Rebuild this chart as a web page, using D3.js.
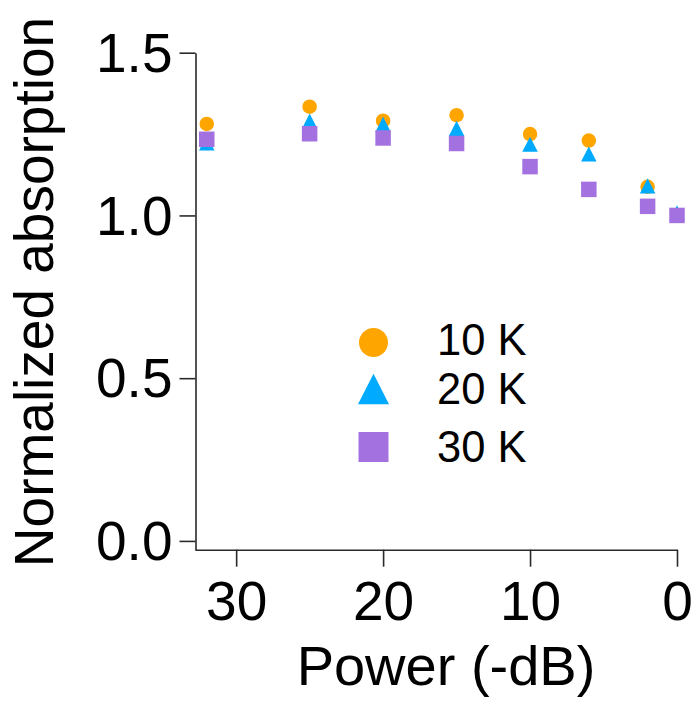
<!DOCTYPE html>
<html>
<head>
<meta charset="utf-8">
<script src="https://cdn.jsdelivr.net/npm/d3@7"></script>
<style>
  html, body { margin: 0; padding: 0; background: #fff; }
  svg { display: block; font-family: "Liberation Sans", Arial, sans-serif; }
</style>
</head>
<body>
<svg id="chart" width="696" height="706"></svg>
<script>
// ---- data ----
const power = [32, 25, 20, 15, 10, 6, 2, 0];
const seriesNames = ["10 K", "20 K", "30 K"];
const values10K = [1.281, 1.334, 1.291, 1.308, 1.250, 1.230, 1.088, 1.000];
const values20K = [1.215, 1.282, 1.272, 1.260, 1.211, 1.181, 1.083, 1.000];
const values30K = [1.234, 1.251, 1.238, 1.221, 1.150, 1.080, 1.028, 1.000];
const xTicks = [30, 20, 10, 0];
const yTicks = [0.0, 0.5, 1.0, 1.5];
const xTitle = "Power (-dB)";
const yTitle = "Normalized absorption";

const series = [
  { name: seriesNames[0], values: values10K, shape: "circle",   color: "#FFA500" },
  { name: seriesNames[1], values: values20K, shape: "triangle", color: "#00AAFF" },
  { name: seriesNames[2], values: values30K, shape: "square",   color: "#A472E0" }
];

// ---- layout ----
const svg = d3.select("#chart");
const x = d3.scaleLinear().domain([32.8, 0]).range([195, 677]);
const y = d3.scaleLinear().domain([-0.027, 1.5]).range([549.7, 52.7]);
const axisColor = "#2a2a2a";

function shapePath(shape, s) {
  if (shape === "circle") {
    const r = s / 2;
    return `M${-r},0A${r},${r} 0 1,0 ${r},0A${r},${r} 0 1,0 ${-r},0Z`;
  }
  if (shape === "square") {
    const h = s / 2;
    return `M${-h},${-h}H${h}V${h}H${-h}Z`;
  }
  const w = s / 2, hgt = s * 0.98;
  return `M0,${-hgt * 2 / 3}L${w},${hgt / 3}L${-w},${hgt / 3}Z`;
}

// ---- axes ----
const yAxis = d3.axisLeft(y).tickValues(yTicks).tickFormat(d3.format(".1f"))
  .tickSizeInner(16).tickSizeOuter(0).tickPadding(7);
const gy = svg.append("g").attr("transform", "translate(195.5,0)").call(yAxis);
gy.select(".domain").attr("stroke", axisColor).attr("stroke-width", 1.6);
gy.selectAll(".tick line").attr("stroke", axisColor).attr("stroke-width", 1.6);
gy.selectAll(".tick text").attr("fill", "#000").attr("font-size", 55)
  .attr("font-family", "Liberation Sans, Arial, sans-serif").attr("dy", "0.34em");

const xAxis = d3.axisBottom(x).tickValues(xTicks).tickFormat(d3.format("d"))
  .tickSizeInner(17).tickSizeOuter(0).tickPadding(14);
const gx = svg.append("g").attr("transform", "translate(0,549.7)").call(xAxis);
gx.select(".domain").attr("stroke", axisColor).attr("stroke-width", 1.6);
gx.selectAll(".tick line").attr("stroke", axisColor).attr("stroke-width", 1.6);
gx.selectAll(".tick text").attr("fill", "#000").attr("font-size", 55)
  .attr("font-family", "Liberation Sans, Arial, sans-serif");

// ---- titles ----
svg.append("text").attr("x", 446).attr("y", 685).attr("text-anchor", "middle")
  .attr("font-size", 56).attr("fill", "#000").text(xTitle);
svg.append("text").attr("transform", "translate(53,292) rotate(-90)")
  .attr("text-anchor", "middle").attr("font-size", 55).attr("fill", "#000").text(yTitle);

// ---- points ----
const sizes = { circle: 14.5, triangle: 15.5, square: 15.5 };
series.forEach(s => {
  svg.append("g").selectAll("path")
    .data(power.map((p, i) => ({ p, v: s.values[i] })))
    .join("path")
    .attr("transform", d => `translate(${x(d.p)},${y(d.v)})`)
    .attr("d", shapePath(s.shape, sizes[s.shape]))
    .attr("fill", s.color);
});

// ---- legend ----
const legendY = [342.5, 394, 447];
const legendTextY = [355, 404, 461.5];
const legendSizes = { circle: 29, triangle: 31, square: 30 };
const lg = svg.append("g");
series.forEach((s, i) => {
  lg.append("path").attr("transform", `translate(373.5,${legendY[i]})`)
    .attr("d", shapePath(s.shape, legendSizes[s.shape])).attr("fill", s.color);
  lg.append("text").attr("x", 437).attr("y", legendTextY[i])
    .attr("font-size", 43.5).attr("fill", "#000").text(s.name);
});
</script>
</body>
</html>
